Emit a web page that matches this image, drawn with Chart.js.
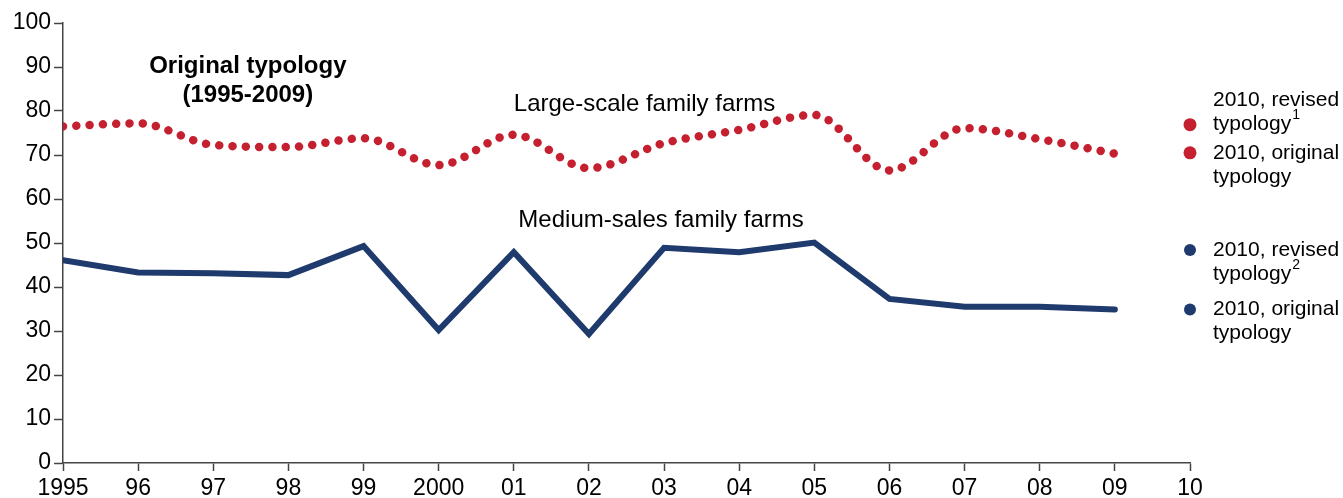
<!DOCTYPE html>
<html lang="en">
<head>
    <meta charset="UTF-8">
    <title>Family farms, original and revised typology</title>
    <script src="https://cdn.jsdelivr.net/npm/chart.js"></script>
    <style>
        body {
            margin: 0;
            background: #fff;
        }
        #wrap {
            width: 1343px;
            height: 498px;
        }
    </style>
</head>
<body>
    <div id="wrap"><canvas id="chart"></canvas></div>

    <script>
        // values
        const years = [1995, 1996, 1997, 1998, 1999, 2000, 2001, 2002, 2003, 2004, 2005, 2006, 2007, 2008, 2009];
        const largeScale = [76.5, 77.2, 72.3, 71.8, 73.8, 67.7, 74.6, 67.0, 72.7, 75.7, 79.1, 66.5, 76.1, 73.6, 70.3];
        const mediumSales = [46.1, 43.3, 43.1, 42.7, 49.3, 30.2, 47.9, 29.3, 48.9, 47.9, 50.1, 37.3, 35.5, 35.5, 34.9];

        const year2010 = 2010;
        const largeRevised2010 = 76.9;
        const largeOriginal2010 = 70.5;
        const mediumRevised2010 = 48.4;
        const mediumOriginal2010 = 34.9;

        const yTicks = { min: 0, max: 100, step: 10 };
        const xTicks = { min: 1995, max: 2010 };

        const RED = '#c4202f';
        const BLUE = '#1f3a6d';
        const FONT = 'Liberation Sans, Arial, sans-serif';

        function yearLabel(v) {
            if (v === 1995 || v === 2000) return String(v);
            return String(v % 100).padStart(2, '0');
        }

        function pts(xs, ys) {
            return xs.map((x, i) => ({ x: x, y: ys[i] }));
        }

        // free text on the chart, placed in data coordinates
        const notes = [
            { text: 'Original typology', x: 1997.46, y: 90.2, bold: true },
            { text: '(1995-2009)', x: 1997.46, y: 83.5, bold: true },
            { text: 'Large-scale family farms', x: 2002.74, y: 81.4 },
            { text: 'Medium-sales family farms', x: 2002.96, y: 55.2 }
        ];

        // labels beside the 2010 dots: [dataset index, lines, which line sits on the dot]
        const dotLabels = [
            { ds: 2, lines: [['2010, revised'], ['typology', '1']], anchor: 1 },
            { ds: 3, lines: [['2010, original'], ['typology']], anchor: 0 },
            { ds: 4, lines: [['2010, revised'], ['typology', '2']], anchor: 0 },
            { ds: 5, lines: [['2010, original'], ['typology']], anchor: 0 }
        ];

        const textPlugin = {
            id: 'texts',
            afterDraw(chart) {
                const ctx = chart.ctx;
                const xs = chart.scales.x, ys = chart.scales.y;
                ctx.save();
                ctx.fillStyle = '#000';
                ctx.textBaseline = 'middle';

                notes.forEach(n => {
                    ctx.font = (n.bold ? 'bold ' : '') + '24px ' + FONT;
                    ctx.textAlign = 'center';
                    ctx.fillText(n.text, xs.getPixelForValue(n.x), ys.getPixelForValue(n.y));
                });

                ctx.textAlign = 'left';
                dotLabels.forEach(l => {
                    const p = chart.getDatasetMeta(l.ds).data[0];
                    const left = p.x + 23;
                    const lineH = 24;
                    l.lines.forEach((parts, i) => {
                        const cy = p.y + (i - l.anchor) * lineH;
                        ctx.font = '21px ' + FONT;
                        ctx.fillText(parts[0], left, cy);
                        if (parts[1]) {
                            const w = ctx.measureText(parts[0]).width;
                            ctx.font = '14px ' + FONT;
                            ctx.fillText(parts[1], left + w + 1, cy - 9);
                        }
                    });
                });
                ctx.restore();
            }
        };

        const ctx = document.getElementById('chart').getContext('2d');

        new Chart(ctx, {
            type: 'line',
            data: {
                datasets: [
                    {
                        label: 'Large-scale family farms',
                        data: pts(years, largeScale),
                        borderColor: RED,
                        borderWidth: 8.5,
                        borderDash: [0.01, 13.3],
                        borderCapStyle: 'round',
                        cubicInterpolationMode: 'monotone',
                        pointRadius: 0,
                        fill: false
                    },
                    {
                        label: 'Medium-sales family farms',
                        data: pts(years, mediumSales),
                        borderColor: BLUE,
                        borderWidth: 6,
                        borderJoinStyle: 'miter',
                        borderCapStyle: 'round',
                        tension: 0,
                        pointRadius: 0,
                        fill: false
                    },
                    {
                        label: '2010, revised typology (large)',
                        data: [{ x: year2010, y: largeRevised2010 }],
                        showLine: false,
                        pointRadius: 6.5,
                        pointBackgroundColor: RED,
                        pointBorderWidth: 0,
                        clip: false
                    },
                    {
                        label: '2010, original typology (large)',
                        data: [{ x: year2010, y: largeOriginal2010 }],
                        showLine: false,
                        pointRadius: 6.5,
                        pointBackgroundColor: RED,
                        pointBorderWidth: 0,
                        clip: false
                    },
                    {
                        label: '2010, revised typology (medium)',
                        data: [{ x: year2010, y: mediumRevised2010 }],
                        showLine: false,
                        pointRadius: 6,
                        pointBackgroundColor: BLUE,
                        pointBorderWidth: 0,
                        clip: false
                    },
                    {
                        label: '2010, original typology (medium)',
                        data: [{ x: year2010, y: mediumOriginal2010 }],
                        showLine: false,
                        pointRadius: 6,
                        pointBackgroundColor: BLUE,
                        pointBorderWidth: 0,
                        clip: false
                    }
                ]
            },
            options: {
                responsive: true,
                maintainAspectRatio: false,
                animation: false,
                layout: {
                    padding: { left: 0, right: 153, top: 23, bottom: 0 }
                },
                plugins: {
                    legend: { display: false },
                    tooltip: { enabled: false }
                },
                scales: {
                    x: {
                        type: 'linear',
                        min: xTicks.min,
                        max: xTicks.max,
                        afterFit: s => { s.height = 35; },
                        ticks: {
                            stepSize: 1,
                            autoSkip: false,
                            maxRotation: 0,
                            padding: 4,
                            color: '#000',
                            font: { family: FONT, size: 23 },
                            callback: v => yearLabel(v)
                        },
                        grid: {
                            drawOnChartArea: false,
                            tickLength: 8,
                            tickColor: '#444',
                            tickWidth: 1.5
                        },
                        border: { color: '#444', width: 1.5 }
                    },
                    y: {
                        min: yTicks.min,
                        max: yTicks.max,
                        afterFit: s => { s.width = 63; },
                        ticks: {
                            stepSize: yTicks.step,
                            padding: 3,
                            color: '#000',
                            font: { family: FONT, size: 23 }
                        },
                        grid: {
                            drawOnChartArea: false,
                            tickLength: 9,
                            tickColor: '#444',
                            tickWidth: 1.5
                        },
                        border: { color: '#444', width: 1.5 }
                    }
                }
            },
            plugins: [textPlugin]
        });
    </script>
</body>
</html>
